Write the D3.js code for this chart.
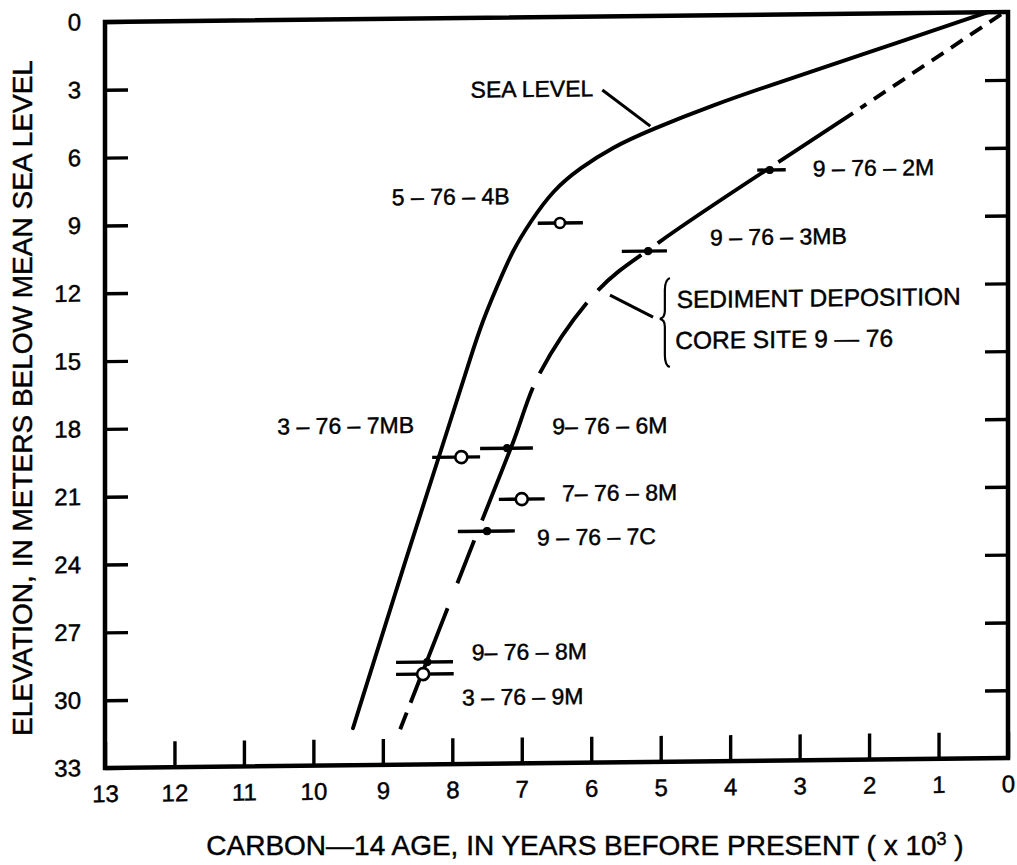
<!DOCTYPE html>
<html>
<head>
<meta charset="utf-8">
<script src="https://cdn.jsdelivr.net/npm/d3@7"></script>
<style>
html,body{margin:0;padding:0;background:#fff;}
svg{display:block;}
text{font-family:"Liberation Sans", Arial, Helvetica, sans-serif; fill:#000; stroke:#000; stroke-width:0.45px;}
</style>
</head>
<body>
<svg id="chart" width="1017" height="865"></svg>
<script>
// ---------- data ----------
const ageTicks = [13,12,11,10,9,8,7,6,5,4,3,2,1,0];
const depthTicks = [0,3,6,9,12,15,18,21,24,27,30,33];

// Sea level curve (age ka BP, depth m below MSL)
const seaLevelAge   = [0.3, 1.99, 3.28, 4.25, 5.15, 5.69, 6.16, 6.55, 6.88, 7.13, 7.36, 7.56, 7.75, 7.93, 8.72, 9.43];
const seaLevelDepth = [0,   1.70, 2.98, 3.97, 5.04, 5.78, 6.69, 7.65, 9.06, 10.29, 11.92, 13.37, 15.13, 16.90, 24.39, 31.36];

// Sediment deposition curve, core site 9-76
const sedimentAge   = [0.1, 2.23, 5.04, 5.90, 6.74, 7.13, 7.57, 8.75];
const sedimentDepth = [0.1, 4.39, 10.05, 12.1, 15.74, 18.83, 22.22, 31.43];
const sedimentShortDashTo = 4.39;          // short dashes above this depth
const sedimentGaps = [[6.52,6.85],[10.05,10.55],[12.1,12.65],[15.74,16.35],[22.22,23.1],[25.0,26.1],[30.24,30.68]];

// Radiocarbon samples
const sampleIds    = ["5-76-4B","9-76-2M","9-76-3MB","3-76-7MB","9-76-6M","7-76-8M","9-76-7C","9-76-8M","3-76-9M"];
const sampleAge    = [6.45, 3.43, 5.18, 7.87, 7.21, 7.00, 7.50, 8.36, 8.42];
const sampleDepth  = [9.11, 6.87, 10.40, 19.42, 19.05, 21.31, 22.71, 28.47, 29.00];
const sampleAgeOld = [6.77, 3.61, 5.56, 8.29, 7.60, 7.33, 7.92, 8.81, 8.81];
const sampleAgeYoung=[6.12, 3.20, 4.91, 7.60, 6.84, 6.67, 7.10, 7.99, 7.98];
const sampleOpen   = [true, false, false, true, false, true, false, false, true];

// Text annotations
const labelText  = ["SEA LEVEL","5 – 76 – 4B","9 – 76 – 2M","9 – 76 – 3MB","SEDIMENT DEPOSITION","CORE SITE 9 — 76","3 – 76 – 7MB","9– 76 – 6M","7– 76 – 8M","9 – 76 – 7C","9– 76 – 8M","3 – 76 – 9M"];
const labelAge   = [5.97, 8.87, 2.81, 4.29, 4.77, 4.79, 10.52, 6.56, 6.42, 6.78, 7.72, 7.86];
const labelDepth = [3.16, 7.88, 6.81, 9.81, 12.54, 14.35, 17.96, 18.09, 21.06, 23.0, 28.05, 30.04];
const labelAnchor= ["end","start","start","start","start","start","start","start","start","start","start","start"];
const labelSize  = [23,23,23,23,24.5,24.5,23,23,23,23,23,23];

const seaLeaderAge = [5.84, 5.15], seaLeaderDepth = [3.25, 4.87];
const sedLeaderAge = [5.73, 5.11], sedLeaderDepth = [12.33, 13.32];
const braceAge = 4.94, braceTop = 11.6, braceMid = 13.4, braceBottom = 15.54;

const yTitle = "ELEVATION, IN METERS BELOW MEAN SEA LEVEL";
const xTitle = "CARBON—14 AGE, IN YEARS BEFORE PRESENT  ( x 10";

// ---------- drawing ----------
const svg = d3.select("#chart");
const x = d3.scaleLinear().domain([13,0]).range([105,1008]);
const y = d3.scaleLinear().domain([0,33]).range([22,768]);

// slight skew of the scanned original
const g = svg.append("g").attr("transform","translate(105,0) skewY(-0.63) translate(-105,0)");

// frame
g.append("rect")
  .attr("x", x(13)).attr("y", y(0))
  .attr("width", x(0)-x(13)).attr("height", y(33)-y(0))
  .attr("fill","none").attr("stroke","#000").attr("stroke-width",4.5);

function styleAxis(sel){
  sel.select(".domain").remove();
  sel.selectAll(".tick line").attr("stroke","#000").attr("stroke-width",3.4);
  sel.selectAll(".tick text").attr("font-size",24).attr("font-family",'"Liberation Sans", Arial, sans-serif').attr("fill","#000");
}

g.append("g").attr("transform",`translate(${x(13)},0)`)
  .call(d3.axisLeft(y).tickValues(depthTicks).tickSize(-23).tickSizeOuter(0).tickPadding(24).tickFormat(d3.format("d")))
  .call(styleAxis);
g.append("g").attr("transform",`translate(${x(0)},0)`)
  .call(d3.axisRight(y).tickValues(depthTicks.filter(d=>d>0&&d<33)).tickSize(-23).tickSizeOuter(0).tickFormat(""))
  .call(styleAxis);
g.append("g").attr("transform",`translate(0,${y(33)})`)
  .call(d3.axisBottom(x).tickValues(ageTicks).tickSize(-26).tickSizeOuter(0).tickPadding(17).tickFormat(d3.format("d")))
  .call(styleAxis);

// curves
const seaLine = d3.line().x(d=>x(d[0])).y(d=>y(d[1])).curve(d3.curveBasis);
const line = d3.line().x(d=>x(d[0])).y(d=>y(d[1])).curve(d3.curveCatmullRom.alpha(0.5));
const seaPts = seaLevelAge.map((a,i)=>[a, seaLevelDepth[i]]);
g.append("path").attr("d", seaLine(seaPts))
  .attr("fill","none").attr("stroke","#000").attr("stroke-width",3.9).attr("stroke-linecap","round");

const sedPts = sedimentAge.map((a,i)=>[a, sedimentDepth[i]]);
const sedPath = g.append("path").attr("d", line(sedPts))
  .attr("fill","none").attr("stroke","#000").attr("stroke-width",3.9).attr("stroke-linecap","butt");

// dash pattern computed from the depths of the gaps
(function(){
  const node = sedPath.node();
  const L = node.getTotalLength();
  const samples = [];
  for (let s=0; s<=L; s+=0.5){ const p = node.getPointAtLength(s); samples.push([s, y.invert(p.y)]); }
  const lenAt = d => { for (const [s,dd] of samples) if (dd >= d) return s; return L; };
  const intervals = [];
  const Ld = lenAt(sedimentShortDashTo);
  let s = 0;
  while (s < Ld - 9) { intervals.push([s, Math.min(s+14, Ld-9)]); s += 23; }
  let cur = Ld;
  sedimentGaps.forEach(([a,b])=>{
    const la = lenAt(a), lb = lenAt(b);
    intervals.push([cur, la]); cur = lb;
  });
  intervals.push([cur, L]);
  const arr = [0]; let pos = 0;
  intervals.forEach(([a,b])=>{ arr.push(Math.max(0,a-pos), Math.max(0,b-a)); pos = b; });
  arr.push(L+10);
  sedPath.attr("stroke-dasharray", arr.map(v=>v.toFixed(2)).join(" "));
})();

// leaders
const seg = d3.line().x(d=>x(d[0])).y(d=>y(d[1]));
g.append("path").attr("d", seg(seaLeaderAge.map((a,i)=>[a, seaLeaderDepth[i]])))
  .attr("stroke","#000").attr("stroke-width",3).attr("fill","none");
g.append("path").attr("d", seg(sedLeaderAge.map((a,i)=>[a, sedLeaderDepth[i]])))
  .attr("stroke","#000").attr("stroke-width",3).attr("fill","none");

// brace
(function(){
  const bx = x(braceAge), t = y(braceTop), m = y(braceMid), b = y(braceBottom);
  const p = d3.path();
  p.moveTo(bx+5, t);
  p.quadraticCurveTo(bx, t+2, bx, t+12);
  p.lineTo(bx, m-8);
  p.quadraticCurveTo(bx, m-1, bx-5, m);
  p.quadraticCurveTo(bx, m+1, bx, m+8);
  p.lineTo(bx, b-12);
  p.quadraticCurveTo(bx, b-2, bx+5, b);
  g.append("path").attr("d", p.toString()).attr("fill","none").attr("stroke","#000").attr("stroke-width",2.2);
})();

// samples
const smp = g.append("g").selectAll("g").data(sampleIds.map((id,i)=>({id, i}))).join("g");
smp.append("line")
  .attr("x1", d=>x(sampleAgeOld[d.i])).attr("x2", d=>x(sampleAgeYoung[d.i]))
  .attr("y1", d=>y(sampleDepth[d.i])).attr("y2", d=>y(sampleDepth[d.i]))
  .attr("stroke","#000").attr("stroke-width",3.4);
smp.append("circle")
  .attr("cx", d=>x(sampleAge[d.i])).attr("cy", d=>y(sampleDepth[d.i]))
  .attr("r", d=> sampleOpen[d.i] ? (d.i===0 ? 5 : 6) : 3.6)
  .attr("fill", d=> sampleOpen[d.i] ? "#fff" : "#000")
  .attr("stroke","#000").attr("stroke-width", d=> sampleOpen[d.i] ? 2.6 : 1);

// labels
g.append("g").selectAll("text").data(labelText).join("text")
  .attr("x",(d,i)=>x(labelAge[i])).attr("y",(d,i)=>y(labelDepth[i]))
  .attr("dy","0.36em").attr("text-anchor",(d,i)=>labelAnchor[i])
  .attr("font-size",(d,i)=>labelSize[i])
  .text(d=>d);

// axis titles
svg.append("text")
  .attr("transform","translate(22,398) rotate(-90)")
  .attr("text-anchor","middle").attr("dy","0.36em")
  .attr("font-size",28).text(yTitle);

const xt = svg.append("text").attr("x",585).attr("y",855)
  .attr("text-anchor","middle").attr("font-size",28);
xt.append("tspan").text(xTitle);
xt.append("tspan").attr("dy",-10).attr("font-size",18).text("3");
xt.append("tspan").attr("dy",10).text(" )");
</script>
</body>
</html>
